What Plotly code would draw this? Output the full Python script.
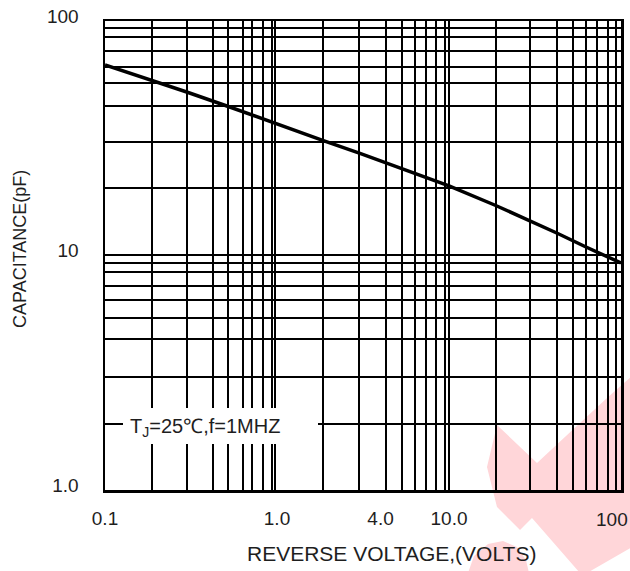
import plotly.graph_objects as go

# Curve: reverse voltage (V) vs junction capacitance (pF)
voltage = [0.1, 0.187, 0.2985, 0.521, 1.0, 1.86, 3.01, 4.3, 10, 18.7, 29.6, 42.3, 62.6, 100]
capacitance = [64.9, 55.9, 49.8, 43.2, 36.3, 30.9, 27.35, 24.8, 19.8, 16.34, 14.05, 12.47, 10.87, 9.29]

# Grid lines as drawn on the original (hand-drawn log paper)
x_grid = [0.187, 0.2985, 0.426, 0.521, 0.637, 0.718, 0.832, 0.931, 0.978,
          1.86, 3.01, 4.3, 5.31, 6.34, 7.35, 8.4, 9.48, 10.0,
          18.7, 29.6, 42.3, 52.8, 62.6, 72.2, 84.4, 93.5, 98.7]
y_grid = [1.92, 3.02, 4.39, 5.43, 6.46, 7.42, 8.53, 9.26, 10.05,
          19.35, 30.6, 43.4, 54.2, 63.9, 74.7, 85.7, 93.1]

x_tickvals = [0.1, 1.0, 4.0, 10.0, 100]
x_ticktext = ["0.1", "1.0", "4.0", "10.0", ""]
x_end_label = "100"   # drawn slightly inside the right edge, as in the original
y_tickvals = [1, 10, 100]
y_ticktext = ["1.0", "10", "100"]

FONT = "Liberation Sans, Arial, sans-serif"
TXT = "#1e1e1e"

fig = go.Figure()
fig.add_trace(go.Scatter(x=voltage, y=capacitance, mode="lines",
                         line=dict(color="black", width=3.5),
                         hoverinfo="skip", showlegend=False))

W, H = 630, 571
PL, PT, PR, PB = 105, 21, 621, 490          # plot box in page pixels
L, T, R, B = PL, PT, W - PR, H - PB
pw, ph = PR - PL, PB - PT

def px(X):
    return (X - PL) / pw

def py(Y):
    return (PB - Y) / ph

# watermark (pale red logo fragment)
pts = [(497, 425), (537, 463), (580, 423), (607, 398), (632, 376), (632, 547),
       (587, 573), (580, 573), (532, 518), (520, 530), (497, 507), (487, 467)]
path = "M " + " L ".join(f"{px(a):.4f},{py(b):.4f}" for a, b in pts) + " Z"
fig.add_shape(type="path", path=path, xref="paper", yref="paper",
              fillcolor="#FFD6D9", line=dict(width=0), layer="below")
blob = [(468, 573), (474, 556), (488, 544), (503, 541), (517, 547), (526, 560), (529, 573)]
path2 = "M " + " L ".join(f"{px(a):.4f},{py(b):.4f}" for a, b in blob) + " Z"
fig.add_shape(type="path", path=path2, xref="paper", yref="paper",
              fillcolor="#FFD6D9", line=dict(width=0), layer="below")

# white box behind the condition label
fig.add_shape(type="rect", xref="paper", yref="paper",
              x0=px(123), x1=px(318), y0=py(444), y1=py(408),
              fillcolor="white", line=dict(width=0), layer="above")
fig.add_annotation(text="T<sub>J</sub>=25\u2103,f=1MHZ", xref="paper", yref="paper",
                   x=px(128), y=py(427), xanchor="left", yanchor="middle",
                   showarrow=False, font=dict(family=FONT, size=20, color=TXT))

fig.add_annotation(text=x_end_label, xref="paper", yref="paper",
                   x=px(612), y=py(519), xanchor="center", yanchor="middle",
                   showarrow=False, font=dict(family=FONT, size=19, color=TXT))

fig.add_annotation(text="REVERSE VOLTAGE,(VOLTS)", xref="paper", yref="paper",
                   x=px(391), y=py(553), xanchor="center", yanchor="middle",
                   showarrow=False, font=dict(family=FONT, size=21, color=TXT))
fig.add_annotation(text="CAPACITANCE(pF)", xref="paper", yref="paper",
                   x=px(20), y=py(249), xanchor="center", yanchor="middle", textangle=-90,
                   showarrow=False, font=dict(family=FONT, size=18, color=TXT))

grid_style = dict(showgrid=True, gridcolor="black", gridwidth=2, ticks="")

fig.update_xaxes(type="log", range=[-1, 2], tickmode="array", tickvals=x_tickvals,
                 ticktext=x_ticktext, showgrid=False, zeroline=False, ticks="",
                 showline=True, linecolor="black", linewidth=2.5, mirror=True,
                 tickfont=dict(family=FONT, size=19, color=TXT), ticklabelstandoff=10,
                 ticklabeloverflow="allow",
                 minor=dict(tickmode="array", tickvals=x_grid, **grid_style))
fig.update_yaxes(type="log", range=[0, 2], tickmode="array", tickvals=y_tickvals,
                 ticktext=y_ticktext, showgrid=False, zeroline=False, ticks="",
                 showline=True, linecolor="black", linewidth=2.5, mirror=True,
                 tickfont=dict(family=FONT, size=19, color=TXT), ticklabelstandoff=20,
                 ticklabelshift=-5, ticklabeloverflow="allow",
                 minor=dict(tickmode="array", tickvals=y_grid, **grid_style))

fig.update_layout(width=W, height=H, margin=dict(l=L, r=R, t=T, b=B, autoexpand=False),
                  paper_bgcolor="white", plot_bgcolor="rgba(0,0,0,0)",
                  font=dict(family=FONT, color=TXT), showlegend=False)

fig.write_html("out.html", config={"displayModeBar": False, "staticPlot": True},
               post_script="document.body.style.margin='0';document.body.style.overflow='hidden';")
